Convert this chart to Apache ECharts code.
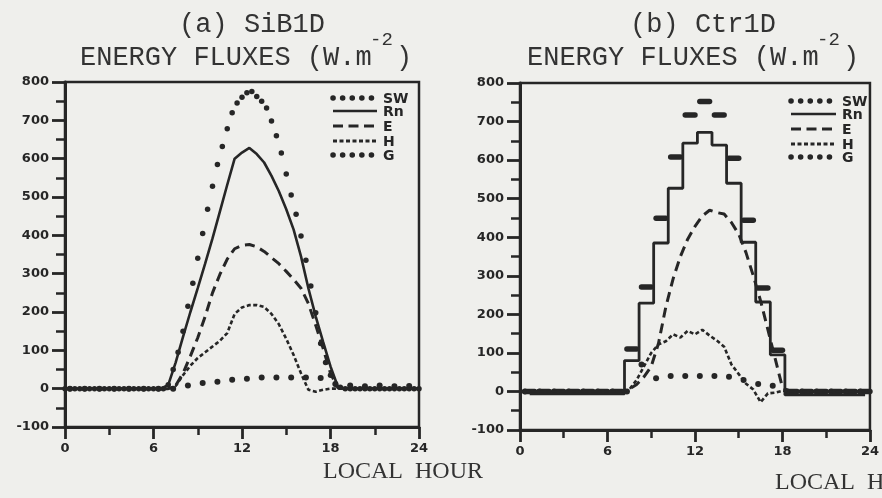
<!DOCTYPE html>
<html>
<head>
<meta charset="utf-8">
<script src="https://cdn.jsdelivr.net/npm/echarts@6/dist/echarts.min.js"></script>
<style>
  html, body { margin: 0; padding: 0; background: #efefec; }
  #chart { width: 882px; height: 498px; }
</style>
</head>
<body>
<div id="chart"></div>
<script>
  // (a) SiB1D -- SW every 20 min from 0h, Rn/E/H every 30 min, G hourly (hh:20)
  const sibSW = [
    0, 0, 0, 0, 0, 0, 0, 0, 0, 0, 0, 0, 0, 0, 0, 0, 0, 0, 0, 0, 0,
    10, 50, 95, 150, 215, 275, 340, 405, 468, 528, 585, 632, 678, 720, 745, 760, 772,
    775, 762, 750, 732, 698, 660, 615, 560, 505, 455, 398, 335, 268, 198, 118, 68, 35, 12, 4,
    0, 0, 0, 0, 0, 0, 0, 0, 0, 0, 0, 0, 0, 0, 0, 0
  ];
  const sibRn = [
    0, 0, 0, 0, 0, 0, 0, 0, 0, 0, 0, 0, 0, 0,
    10, 68, 135, 200, 262, 326, 392, 462, 532, 600, 616, 628,
    612, 590, 555, 515, 468, 415, 345, 262, 188, 122, 58, 5,
    0, 0, 0, 0, 0, 0, 0, 0, 0, 0, 0
  ];
  const sibE = [
    0, 0, 0, 0, 0, 0, 0, 0, 0, 0, 0, 0, 0, 0,
    0, 8, 40, 85, 133, 188, 250, 298, 338, 365, 374, 376,
    370, 358, 342, 326, 306, 285, 262, 222, 165, 105, 40, 2,
    0, 0, 0, 0, 0, 0, 0, 0, 0, 0, 0
  ];
  const sibH = [
    0, 0, 0, 0, 0, 0, 0, 0, 0, 0, 0, 0, 0, 0,
    0, 7, 35, 60, 80, 95, 110, 125, 145, 195, 212, 218,
    218, 213, 195, 168, 130, 88, 40, -3, -8, -3, 0, 0,
    0, 0, 0, 0, 0, 0, 0, 0, 0, 0, 0
  ];
  const sibG = [0, 0, 0, 0, 0, 0, 0, 0, 8, 15, 18, 23, 26, 29, 29, 29, 29, 28, 12, 8, 6, 8, 6, 7];

  // (b) Ctr1D -- SW, Rn, G hourly; E/H every 30 min
  const ctrSW = [0, 0, 0, 0, 0, 0, 0, 110, 271, 449, 608, 717, 752, 717, 605, 444, 268, 107, 0, 0, 0, 0, 0, 0];
  const ctrRn = [-6, -6, -6, -6, -6, -6, -6, 80, 229, 385, 527, 644, 672, 639, 540, 387, 232, 95, -9, -9, -9, -9, -9, -9];
  const ctrE = [
    0, 0, 0, 0, 0, 0, 0, 0, 0, 0, 0, 0, 0, 0,
    2, 6, 18, 38, 65, 125, 219, 292, 350, 395, 428, 455,
    470, 464, 460, 438, 408, 360, 300, 235, 160, 85, 10, 0,
    0, 0, 0, 0, 0, 0, 0, 0, 0, 0, 0
  ];
  const ctrH = [
    0, 0, 0, 0, 0, 0, 0, 0, 0, 0, 0, 0, 0, 0,
    0, 5, 30, 65, 100, 122, 130, 148, 140, 157, 148, 160,
    145, 132, 116, 70, 45, 20, 5, -28, -5, -3, 2, 0,
    0, 0, 0, 0, 0, 0, 0, 0, 0, 0, 0
  ];
  const ctrG = [0, 0, 0, 0, 0, 0, 0, 0, 70, 34, 40, 40, 40, 40, 38, 30, 19, 15, 0, 0, 0, 0, 0, 0];

  const hourTicks = [0, 6, 12, 18, 24];
  const fluxTicks = [-100, 0, 100, 200, 300, 400, 500, 600, 700, 800];
  const legendNames = ['SW', 'Rn', 'E', 'H', 'G'];

  const ink = '#262626';
  const monoFont = '"Liberation Mono", "DejaVu Sans Mono", monospace';
  const tickFont = { color: ink, fontFamily: 'DejaVu Sans', fontWeight: 'bold', fontSize: 13 };

  const perThird = arr => arr.map((v, i) => [i / 3, v]);
  const perHalf = arr => arr.map((v, i) => [i * 0.5, v]);
  const perHour = (arr, off) => arr.map((v, k) => [k + off, v]);

  let myChart = echarts.init(document.getElementById('chart'));

  function makeX(gi){
    return {
      type: 'value', gridIndex: gi,
      min: hourTicks[0], max: hourTicks[hourTicks.length - 1], interval: 6,
      axisLine: { onZero: false, lineStyle: { color: ink, width: 3 } },
      axisTick: { length: 12, lineStyle: { color: ink, width: 2.8 } },
      minorTick: { show: true, splitNumber: 2, length: 8, lineStyle: { color: ink, width: 2.5 } },
      axisLabel: Object.assign({ margin: 15 }, tickFont),
      splitLine: { show: false }
    };
  }
  function makeY(gi){
    return {
      type: 'value', gridIndex: gi,
      min: fluxTicks[0], max: fluxTicks[fluxTicks.length - 1], interval: 100,
      axisLine: { onZero: false, lineStyle: { color: ink, width: 3 } },
      axisTick: { length: 13, lineStyle: { color: ink, width: 2.8 } },
      minorTick: { show: true, splitNumber: 2, length: 9, lineStyle: { color: ink, width: 2.5 } },
      axisLabel: Object.assign({ margin: 16 }, tickFont),
      splitLine: { show: false }
    };
  }

  function lineSeries(gi, data, dash, width){
    return {
      type: 'line', xAxisIndex: gi, yAxisIndex: gi, data: data,
      showSymbol: false, symbol: 'none',
      lineStyle: { color: ink, width: width, type: dash, cap: 'butt' }
    };
  }
  function dotSeries(gi, data, size){
    return {
      type: 'scatter', xAxisIndex: gi, yAxisIndex: gi, data: data,
      symbol: 'circle', symbolSize: size, itemStyle: { color: ink, opacity: 1 }
    };
  }

  // legend drawn by hand, to keep the dotted/dashed samples of the original
  function legendGraphics(x0, x1, rows){
    const styles = [
      { lineWidth: 5.5, lineDash: [0.1, 9.5], lineCap: 'round' },
      { lineWidth: 2.5, lineDash: null, lineCap: 'butt' },
      { lineWidth: 3, lineDash: [10, 5.5], lineCap: 'butt' },
      { lineWidth: 3, lineDash: [4, 2.5], lineCap: 'butt' },
      { lineWidth: 5.5, lineDash: [0.1, 9.5], lineCap: 'round' }
    ];
    let out = [];
    legendNames.forEach((name, i) => {
      out.push({
        type: 'line', shape: { x1: x0, y1: rows[i], x2: x1, y2: rows[i] },
        style: Object.assign({ stroke: ink }, styles[i])
      });
      out.push({
        type: 'text', x: x1 + 6, y: rows[i] + 1,
        style: { text: name, fill: ink, font: 'bold 14px "DejaVu Sans"', align: 'left', verticalAlign: 'middle' }
      });
    });
    return out;
  }

  function titleGraphics(cx, lx, label){
    return [
      { type: 'text', x: cx, y: 25, style: { text: label, fill: '#333', font: '27px ' + monoFont, align: 'center', verticalAlign: 'middle' } },
      { type: 'text', x: lx, y: 58, style: { text: 'ENERGY FLUXES (W.m', fill: '#333', font: '27px ' + monoFont, align: 'left', verticalAlign: 'middle' } },
      { type: 'text', x: lx + 290, y: 40, style: { text: '-2', fill: '#333', font: '19px ' + monoFont, align: 'left', verticalAlign: 'middle' } },
      { type: 'text', x: lx + 316, y: 58, style: { text: ')', fill: '#333', font: '27px ' + monoFont, align: 'left', verticalAlign: 'middle' } }
    ];
  }

  myChart.setOption({
    animation: false,
    backgroundColor: '#efefec',
    grid: [
      { left: 65, top: 82, width: 354, height: 345, show: true, borderColor: ink, borderWidth: 2.5 },
      { left: 520, top: 83, width: 355, height: 347, show: true, borderColor: ink, borderWidth: 2.5 }
    ],
    xAxis: [makeX(0), makeX(1)],
    yAxis: [makeY(0), makeY(1)],
    series: [
      // (a) SiB1D
      dotSeries(0, perThird(sibSW), 5.5),
      lineSeries(0, perHalf(sibRn), 'solid', 2.6),
      lineSeries(0, perHalf(sibE), [10, 6], 3),
      lineSeries(0, perHalf(sibH), [4, 2.5], 2.6),
      dotSeries(0, perHour(sibG, 1 / 3), 6),
      // (b) Ctr1D
      {
        type: 'custom', xAxisIndex: 1, yAxisIndex: 1,
        data: perHour(ctrSW, 0),
        renderItem: function(params, api){
          let a = api.coord([api.value(0) + 1 / 3, api.value(1)]);
          let b = api.coord([api.value(0) + 1, api.value(1)]);
          return {
            type: 'line',
            shape: { x1: a[0], y1: a[1], x2: b[0], y2: b[1] },
            style: { stroke: ink, lineWidth: 5.5, lineCap: 'round' }
          };
        }
      },
      Object.assign(lineSeries(1, perHour(ctrRn, 2 / 3), 'solid', 2.8), { step: 'middle' }),
      lineSeries(1, perHalf(ctrE), [10, 6], 3),
      lineSeries(1, perHalf(ctrH), [4, 2.5], 2.6),
      dotSeries(1, perHour(ctrG, 1 / 3), 6)
    ],
    graphic: [].concat(
      titleGraphics(252, 80, '(a) SiB1D'),
      titleGraphics(703, 527, '(b) Ctr1D'),
      legendGraphics(333, 377, [98, 111, 126, 141, 155]),
      legendGraphics(791, 836, [101, 114, 129, 144, 157]),
      [
        { type: 'text', x: 323, y: 472, style: { text: 'LOCAL  HOUR', fill: '#333', font: '24px "Liberation Serif"', align: 'left', verticalAlign: 'middle' } },
        { type: 'text', x: 775, y: 483, style: { text: 'LOCAL  HOUR', fill: '#333', font: '24px "Liberation Serif"', align: 'left', verticalAlign: 'middle' } }
      ]
    )
  });
</script>
</body>
</html>
